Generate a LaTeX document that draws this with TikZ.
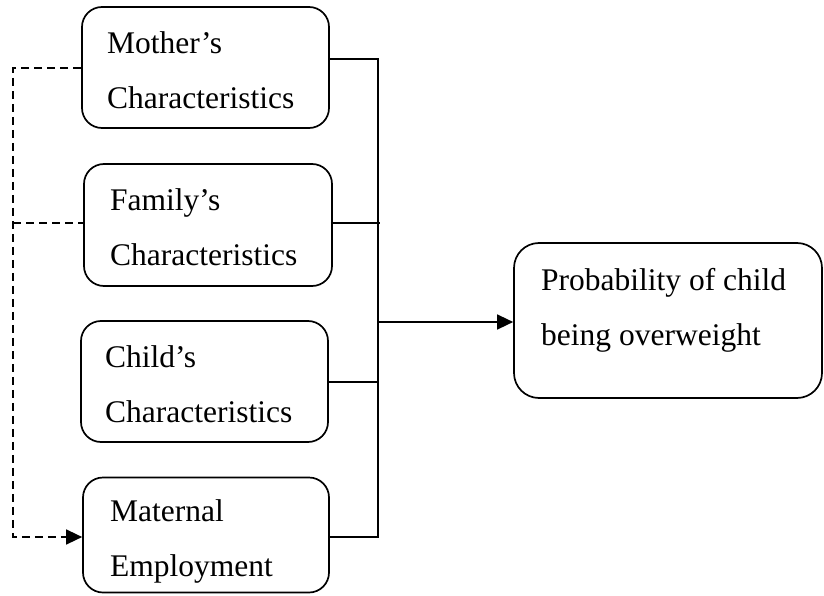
\documentclass[tikz,border=0pt]{standalone}
\usepackage{fontspec}
\setmainfont{Liberation Serif}
\usetikzlibrary{arrows.meta}
\newcommand\fstrut{\rule{0pt}{23pt}}
\begin{document}
\begin{tikzpicture}[x=1pt,y=-1pt,
  box/.style={draw, line width=1.7pt, rounded corners=20pt, inner sep=0pt},
  txt/.style={anchor=north west, inner sep=0pt, align=left, font=\fontsize{31.5}{55}\selectfont},
  conn/.style={line width=1.5pt},
  dconn/.style={line width=1.5pt, dash pattern=on 8pt off 5pt},
  tip/.style={-{Triangle[length=16pt,width=15pt]}}]
\useasboundingbox (0,0) rectangle (824,596);
% boxes
\node[box, minimum width=247pt, minimum height=121pt] (moth) at (205.5,67.5) {};
\node[box, minimum width=248pt, minimum height=122pt] (fam) at (208,225) {};
\node[box, minimum width=247pt, minimum height=121pt] (chd) at (204.5,381.5) {};
\node[box, minimum width=246pt, minimum height=115pt] (mat) at (206,535) {};
\node[box, rounded corners=25pt, minimum width=308pt, minimum height=155pt] (prob) at (668,320.5) {};
% texts
\node[txt] (mothT) at (107,30) {\fstrut Mother’s\\Characteristics};
\node[txt] (famT) at (110,187) {\fstrut Family’s\\Characteristics};
\node[txt] (chdT) at (105,344) {\fstrut Child’s\\Characteristics};
\node[txt] (matT) at (110,498) {\fstrut Maternal\\Employment};
\node[txt] (probT) at (541,267) {\fstrut Probability of child\\being overweight};
% bus coordinates
\coordinate (bTop) at (378,59);
\coordinate (bFam) at (380,223);
\coordinate (bChd) at (378,382);
\coordinate (bArr) at (378,322);
\coordinate (bBot) at (378,537);
% dashed coordinates
\coordinate (dTop) at (13,68);
\coordinate (dFam) at (13,223);
\coordinate (dBot) at (13,537);
% solid connectors
\draw[conn] (moth.east |- bTop) -- (bTop) -- (bBot) -- (mat.east |- bBot);
\draw[conn] ([xshift=-2pt]fam.east |- bFam) -- (bFam);
\draw[conn] (chd.east |- bChd) -- (bChd);
\draw[conn, tip] (bArr) -- (prob.west |- bArr);
% dashed connectors
\draw[dconn, tip] (moth.west |- dTop) -- (dTop) -- (dBot) -- (mat.west |- dBot);
\draw[dconn] (dFam) -- (fam.west |- dFam);
\end{tikzpicture}
\end{document}
